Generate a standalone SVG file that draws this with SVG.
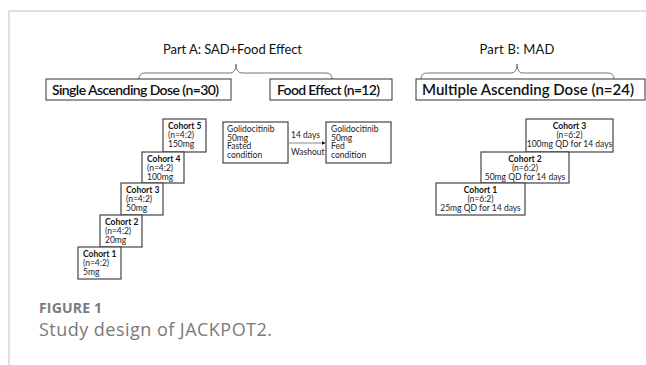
<svg xmlns="http://www.w3.org/2000/svg" width="646" height="365" viewBox="0 0 646 365">
<style>
.frame{fill:none;stroke:#d6d6d6;stroke-width:1.5}
.hbox{fill:#fff;stroke:#333;stroke-width:1}
.cbox{fill:#fff;stroke:#444;stroke-width:1.2}
.brace{fill:none;stroke:#777;stroke-width:1}
.part{font-family:Lato,"Open Sans",sans-serif;font-size:13px;fill:#111}
.head{font-family:Lato,"Open Sans",sans-serif;font-size:14px;font-weight:600;fill:#111}
.t{font-family:Lato,"Open Sans",sans-serif;font-size:8.5px;fill:#222}
.tb{font-family:Lato,"Open Sans",sans-serif;font-size:8.5px;font-weight:bold;fill:#111}
.fig{font-family:"Open Sans",Lato,sans-serif;font-size:14px;font-weight:bold;fill:#7a7a7a}
.cap{font-family:"Open Sans",Lato,sans-serif;font-size:18px;fill:#7a7a7a}
.arrow{stroke:#888;stroke-width:1;fill:none}
</style>
<defs>
<marker id="ah" viewBox="0 0 6 6" refX="6" refY="3" markerWidth="4" markerHeight="4" orient="auto">
<path d="M0,0 L6,3 L0,6 z" fill="#111"/>
</marker>
</defs>
<path class="frame" d="M9,365 V11 H646"/>

<g id="partA">
<text class="part" x="232.5" y="54" text-anchor="middle" textLength="139">Part A: SAD+Food Effect</text>
<path class="brace" d="M139,79 Q139,73 145,73 L230,73 Q236,73 236,64 Q236,73 242,73 L326,73 Q332,73 332,79"/>
</g>
<g id="partB">
<text class="part" x="517" y="54" text-anchor="middle" textLength="75">Part B: MAD</text>
<path class="brace" d="M421,79 Q421,73 427,73 L511,73 Q517,73 517,64 Q517,73 523,73 L608,73 Q614,73 614,79"/>
</g>

<g id="sad">
<rect class="hbox" x="46" y="79" width="185" height="21"/>
<text class="head" x="52" y="95" textLength="167">Single Ascending Dose (n=30)</text>
</g>
<g id="food">
<rect class="hbox" x="270" y="79" width="122" height="21"/>
<text class="head" x="277" y="95" textLength="103">Food Effect (n=12)</text>
</g>
<g id="mad">
<rect class="hbox" x="416" y="79" width="229" height="21"/>
<text class="head" x="422" y="95" style="font-size:15px" textLength="212">Multiple Ascending Dose (n=24)</text>
</g>

<g id="sad-c5">
<rect class="cbox" x="163" y="119" width="43" height="33"/>
<text class="tb" x="168" y="129">Cohort 5</text>
<text class="t" x="168" y="138">(n=4:2)</text>
<text class="t" x="168" y="147">150mg</text>
</g>
<g id="sad-c4">
<rect class="cbox" x="142" y="152" width="42" height="31"/>
<text class="tb" x="147" y="162">Cohort 4</text>
<text class="t" x="147" y="171">(n=4:2)</text>
<text class="t" x="147" y="180">100mg</text>
</g>
<g id="sad-c3">
<rect class="cbox" x="121" y="183" width="42" height="32"/>
<text class="tb" x="126" y="193">Cohort 3</text>
<text class="t" x="126" y="202">(n=4:2)</text>
<text class="t" x="126" y="211">50mg</text>
</g>
<g id="sad-c2">
<rect class="cbox" x="100" y="215" width="42" height="32"/>
<text class="tb" x="105" y="225">Cohort 2</text>
<text class="t" x="105" y="234">(n=4:2)</text>
<text class="t" x="105" y="243">20mg</text>
</g>
<g id="sad-c1">
<rect class="cbox" x="78" y="247" width="43" height="32"/>
<text class="tb" x="83" y="257">Cohort 1</text>
<text class="t" x="83" y="266">(n=4:2)</text>
<text class="t" x="83" y="275">5mg</text>
</g>

<g id="fasted">
<rect class="cbox" x="223" y="122" width="65" height="41"/>
<text class="t" x="227" y="132">Golidocitinib</text>
<text class="t" x="227" y="140.5">50mg</text>
<text class="t" x="227" y="149">Fasted</text>
<text class="t" x="227" y="157.5">condition</text>
</g>
<g id="fed">
<rect class="cbox" x="326" y="122" width="65" height="41"/>
<text class="t" x="331" y="132">Golidocitinib</text>
<text class="t" x="331" y="140.5">50mg</text>
<text class="t" x="331" y="149">Fed</text>
<text class="t" x="331" y="157.5">condition</text>
</g>

<g id="mad-c3">
<rect class="cbox" x="526" y="119" width="87" height="33"/>
<text class="tb" x="569.5" y="129" text-anchor="middle">Cohort 3</text>
<text class="t" x="569.5" y="138" text-anchor="middle">(n=6:2)</text>
<text class="t" x="569.5" y="147" text-anchor="middle">100mg QD for 14 days</text>
</g>
<g id="mad-c2">
<rect class="cbox" x="481" y="152" width="88" height="31"/>
<text class="tb" x="525" y="162" text-anchor="middle">Cohort 2</text>
<text class="t" x="525" y="171" text-anchor="middle">(n=6:2)</text>
<text class="t" x="525" y="180" text-anchor="middle">50mg QD for 14 days</text>
</g>
<g id="mad-c1">
<rect class="cbox" x="436" y="183" width="89" height="32"/>
<text class="tb" x="480.5" y="193" text-anchor="middle">Cohort 1</text>
<text class="t" x="480.5" y="202" text-anchor="middle">(n=6:2)</text>
<text class="t" x="480.5" y="211" text-anchor="middle">25mg QD for 14 days</text>
</g>

<g id="connectors">
<line class="arrow" x1="288" y1="143" x2="325.5" y2="143" marker-end="url(#ah)"/>
<text class="t" x="291" y="138">14 days</text>
<text class="t" x="291" y="155">Washout</text>
</g>

<text class="fig" x="39" y="313" textLength="63">FIGURE 1</text>
<text class="cap" x="39" y="336" textLength="233">Study design of JACKPOT2.</text>
</svg>
